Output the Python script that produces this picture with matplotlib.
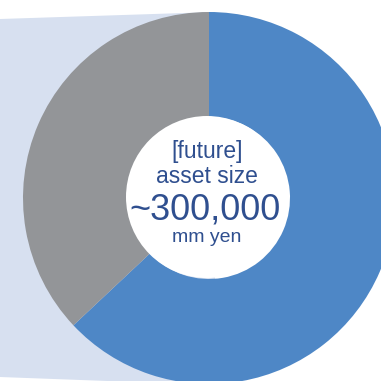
import matplotlib.pyplot as plt
from matplotlib.patches import Polygon, Circle

labels = ["blue part", "gray part"]
shares = [63, 37]
colors = ["#4E87C6", "#939598"]
center_lines = ["[future]", "asset size", "~300,000", "mm yen"]

plt.rcParams['font.family'] = ['Liberation Sans', 'DejaVu Sans']

fig = plt.figure(figsize=(3.81, 3.81), dpi=100)
ax = fig.add_axes([0, 0, 1, 1])
ax.set_xlim(0, 381)
ax.set_ylim(0, 381)
ax.set_aspect('equal')
ax.axis('off')

H = 381
cx, cy = 209, H - 198
r_out, r_in = 186, 81

# light band behind the donut
band = Polygon([(0, H - 19), (215, H - 12), (215, H - 385), (0, H - 377)],
               closed=True, facecolor="#D7E0F0", edgecolor="none", zorder=0)
ax.add_patch(band)

ax.pie(shares, colors=colors, startangle=90, counterclock=False,
       center=(cx, cy), radius=r_out, frame=True,
       wedgeprops=dict(width=r_out - r_in, edgecolor="none"))
ax.add_patch(Circle((cx - 2, cy + 1), r_in, facecolor="white", edgecolor="none", zorder=5))

ax.set_xlim(0, 381)
ax.set_ylim(0, 381)
ax.axis('off')

txt_color = "#2F4F8F"
ys = [158, 183, 220, 242]
sizes = [16.5, 16.5, 26, 14]
xs = [207, 207, 205, 207]
for s, y, fs, x in zip(center_lines, ys, sizes, xs):
    ax.text(x, H - y, s, ha='center', va='baseline', fontsize=fs,
            color=txt_color, zorder=6)

fig.savefig("out.png", dpi=100)
